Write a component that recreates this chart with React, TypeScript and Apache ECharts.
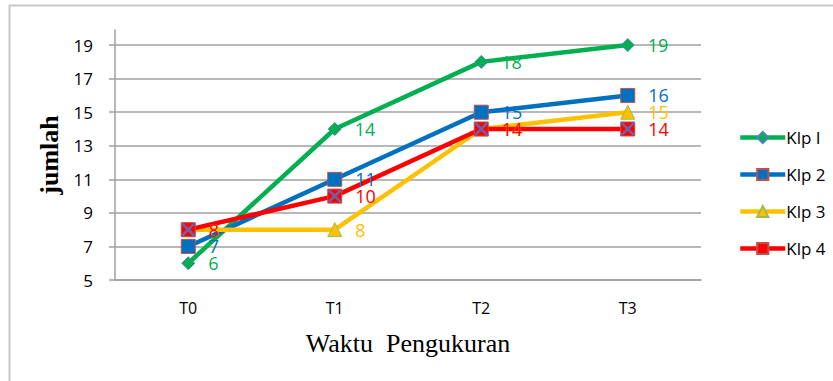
import React, { useEffect, useRef } from "react";
import * as echarts from "echarts";

const categories = ["T0", "T1", "T2", "T3"];
const klp1 = [6, 14, 18, 19];
const klp2 = [7, 11, 15, 16];
const klp3 = [8, 8, 14, 15];
const klp4 = [8, 10, 14, 14];
const seriesNames = ["Klp I", "Klp 2", "Klp 3", "Klp 4"];

const SANS = "'Open Sans', 'Noto Sans', sans-serif";
const SERIF = "'Liberation Serif', 'DejaVu Serif', serif";

const X_PATH =
  "path://M0,0 L1.4,0 L10,8.6 L10,10 L8.6,10 L0,1.4 Z M8.6,0 L10,0 L10,1.4 L1.4,10 L0,10 L0,8.6 Z";

export default function App() {
  const ref = useRef<HTMLDivElement>(null);
  useEffect(() => {
    if (!ref.current) return;
    const chart = echarts.init(ref.current, undefined, { renderer: "svg" });
    const mkLabel = (color: string) => ({
      show: true,
      position: "right" as const,
      distance: 13,
      color,
      fontSize: 18,
      fontFamily: SANS,
    });
    chart.setOption({
      animation: false,
      backgroundColor: "#fff",
      graphic: [
        {
          type: "polyline",
          shape: { points: [[9.5, 381], [9.5, 5.5], [833, 5.5]] },
          style: { stroke: "#c8c8c8", lineWidth: 2, fill: "none" },
          silent: true,
        },
      ],
      grid: { left: 115, right: 132, top: 30, bottom: 101, containLabel: false },
      legend: {
        orient: "vertical",
        left: 733,
        top: 124,
        itemWidth: 45,
        itemHeight: 14,
        itemGap: 20,
        data: seriesNames,
        lineStyle: { width: 4.5 },
        textStyle: { fontSize: 17, fontFamily: SANS, color: "#000", padding: [0, 0, 0, -4] },
      },
      xAxis: {
        type: "category",
        data: categories,
        boundaryGap: true,
        axisLine: { show: true, lineStyle: { color: "#a0a0a0", width: 1.5 } },
        axisTick: { show: false },
        axisLabel: { fontSize: 16, fontFamily: SANS, color: "#000", margin: 20 },
        name: "Waktu  Pengukuran",
        nameLocation: "middle",
        nameGap: 50,
        nameTextStyle: { fontSize: 26, fontFamily: SERIF, color: "#000" },
      },
      yAxis: {
        type: "value",
        min: 5,
        max: 19.9,
        interval: 2,
        axisLine: { show: true, lineStyle: { color: "#a0a0a0", width: 1.5 } },
        axisTick: { show: true, inside: false, length: 6, lineStyle: { color: "#a0a0a0", width: 1.5 } },
        axisLabel: { fontSize: 17, fontFamily: SANS, color: "#000", margin: 22, showMaxLabel: false },
        splitLine: { show: true, showMaxLine: false, lineStyle: { color: "#a0a0a0", width: 1.5 } },
        name: "jumlah",
        nameLocation: "middle",
        nameGap: 48,
        nameRotate: 90,
        nameTextStyle: { fontSize: 26, fontFamily: SERIF, fontWeight: "bold", color: "#000" },
      },
      series: [
        {
          name: "Klp I",
          type: "line",
          data: klp1,
          symbol: "diamond",
          symbolSize: 13,
          lineStyle: { color: "#00B050", width: 4.5 },
          itemStyle: { color: "#00B050", borderColor: "#4F81BD", borderWidth: 1 },
          label: mkLabel("#00B050"),
        },
        {
          name: "Klp 2",
          type: "line",
          data: klp2,
          symbol: "rect",
          symbolSize: 14,
          lineStyle: { color: "#0070C0", width: 4.5 },
          itemStyle: { color: "#0070C0", borderColor: "#C0504D", borderWidth: 1 },
          label: mkLabel("#0070C0"),
        },
        {
          name: "Klp 3",
          type: "line",
          data: klp3,
          symbol: "triangle",
          symbolSize: 14,
          lineStyle: { color: "#FFC000", width: 4.5 },
          itemStyle: { color: "#FFC000", borderColor: "#9BBB59", borderWidth: 1 },
          label: mkLabel("#FFC000"),
        },
        {
          name: "Klp 4",
          type: "line",
          data: klp4,
          symbol: "rect",
          symbolSize: 14,
          lineStyle: { color: "#FF0000", width: 4.5 },
          itemStyle: { color: "#FF0000", borderColor: "#C0504D", borderWidth: 1 },
          label: mkLabel("#FF0000"),
        },
        {
          name: "Klp 4 x",
          type: "line",
          data: klp4,
          symbol: X_PATH,
          symbolSize: 13,
          showSymbol: true,
          lineStyle: { width: 0, opacity: 0 },
          itemStyle: { color: "#7060A8" },
          label: { show: false },
          silent: true,
          z: 5,
        },
      ],
    });
    return () => chart.dispose();
  }, []);
  return (
    <div
      ref={ref}
      style={{ position: "fixed", left: 0, top: 0, width: 833, height: 381 }}
    />
  );
}
